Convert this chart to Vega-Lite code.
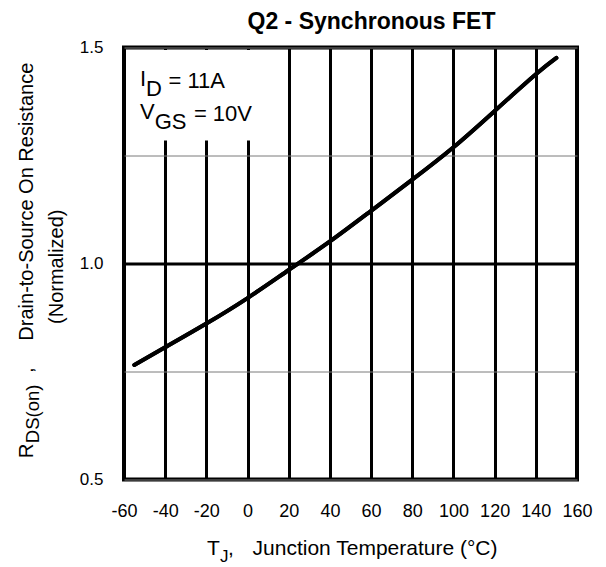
{
  "$schema": "https://vega.github.io/schema/vega-lite/v6.json",
  "width": 453,
  "height": 432,
  "autosize": "none",
  "padding": {"left": 124, "top": 47.5, "right": 29, "bottom": 87.5},
  "background": "white",
  "config": {
    "font": "Liberation Sans",
    "view": {"stroke": "black", "strokeWidth": 4},
    "text": {"color": "black", "font": "Liberation Sans"}
  },
  "title": {
    "text": "Q2 - Synchronous FET",
    "fontSize": 23,
    "fontWeight": "bold",
    "color": "black",
    "anchor": "middle",
    "baseline": "alphabetic",
    "dx": 21,
    "offset": -13
  },
  "datasets": {
    "curve": [
      {"T": -55, "R": 0.765},
      {"T": -40, "R": 0.806},
      {"T": -20, "R": 0.861},
      {"T": 0, "R": 0.92},
      {"T": 20, "R": 0.985},
      {"T": 40, "R": 1.051},
      {"T": 60, "R": 1.122},
      {"T": 80, "R": 1.194},
      {"T": 100, "R": 1.269},
      {"T": 120, "R": 1.353},
      {"T": 140, "R": 1.438},
      {"T": 150, "R": 1.476}
    ]
  },
  "layer": [
    {
      "data": {"name": "curve"},
      "mark": {"type": "line", "color": "black", "strokeWidth": 4, "strokeCap": "round", "interpolate": "natural"},
      "encoding": {
        "x": {
          "field": "T", "type": "quantitative",
          "scale": {"domain": [-60, 160], "nice": false, "zero": false},
          "axis": {
            "title": null,
            "values": [-60, -40, -20, 0, 20, 40, 60, 80, 100, 120, 140, 160],
            "labelExpr": "datum.value + ''",
            "domain": false, "ticks": false, "tickSize": 0,
            "labelFontSize": 18, "labelColor": "black", "labelPadding": 23,
            "labelFont": "Liberation Sans", "labelFlush": false,
            "grid": true, "gridColor": "black", "gridWidth": 3, "gridOpacity": 1
          }
        },
        "y": {
          "field": "R", "type": "quantitative",
          "scale": {"domain": [0.5, 1.5], "nice": false, "zero": false},
          "axis": {
            "title": null,
            "values": [0.5, 0.75, 1, 1.25, 1.5],
            "labelExpr": "datum.value == 0.75 || datum.value == 1.25 ? '' : format(datum.value, '.1f')",
            "domain": false, "ticks": false, "tickSize": 0,
            "labelFontSize": 17, "labelColor": "black", "labelPadding": 21,
            "labelFont": "Liberation Sans", "labelFlush": false,
            "grid": true, "gridOpacity": 1,
            "gridColor": {"condition": {"test": "datum.value == 1", "value": "black"}, "value": "#7a7a7a"},
            "gridWidth": {"condition": {"test": "datum.value == 1", "value": 3}, "value": 1}
          }
        }
      }
    },
    {
      "data": {"values": [{"box": "legend"}]},
      "mark": {"type": "rect", "fill": "white", "strokeWidth": 0},
      "encoding": {
        "x": {"datum": -58.9, "type": "quantitative"},
        "x2": {"datum": 1.6},
        "y": {"datum": 1.285, "type": "quantitative"},
        "y2": {"datum": 1.494}
      }
    },
    {
      "data": {"name": "curve"},
      "mark": {"type": "line", "color": "black", "strokeWidth": 4, "strokeCap": "round", "interpolate": "natural"},
      "encoding": {
        "x": {"field": "T", "type": "quantitative"},
        "y": {"field": "R", "type": "quantitative"}
      }
    },
    {
      "data": {"values": [{"label": "I"}]},
      "mark": {"type": "text", "align": "left", "baseline": "alphabetic", "fontSize": 22, "dx": 16, "dy": 38},
      "encoding": {"x": {"datum": -60, "type": "quantitative"}, "y": {"datum": 1.5, "type": "quantitative"}, "text": {"field": "label"}}
    },
    {
      "data": {"values": [{"label": "D"}]},
      "mark": {"type": "text", "align": "left", "baseline": "alphabetic", "fontSize": 22, "dx": 22.1, "dy": 48},
      "encoding": {"x": {"datum": -60, "type": "quantitative"}, "y": {"datum": 1.5, "type": "quantitative"}, "text": {"field": "label"}}
    },
    {
      "data": {"values": [{"label": "= 11A"}]},
      "mark": {"type": "text", "align": "right", "baseline": "alphabetic", "fontSize": 22, "dx": 101, "dy": 40},
      "encoding": {"x": {"datum": -60, "type": "quantitative"}, "y": {"datum": 1.5, "type": "quantitative"}, "text": {"field": "label"}}
    },
    {
      "data": {"values": [{"label": "V"}]},
      "mark": {"type": "text", "align": "left", "baseline": "alphabetic", "fontSize": 22, "dx": 16, "dy": 71},
      "encoding": {"x": {"datum": -60, "type": "quantitative"}, "y": {"datum": 1.5, "type": "quantitative"}, "text": {"field": "label"}}
    },
    {
      "data": {"values": [{"label": "GS"}]},
      "mark": {"type": "text", "align": "left", "baseline": "alphabetic", "fontSize": 22, "dx": 30.7, "dy": 81},
      "encoding": {"x": {"datum": -60, "type": "quantitative"}, "y": {"datum": 1.5, "type": "quantitative"}, "text": {"field": "label"}}
    },
    {
      "data": {"values": [{"label": "= 10V"}]},
      "mark": {"type": "text", "align": "right", "baseline": "alphabetic", "fontSize": 22, "dx": 128, "dy": 73},
      "encoding": {"x": {"datum": -60, "type": "quantitative"}, "y": {"datum": 1.5, "type": "quantitative"}, "text": {"field": "label"}}
    },
    {
      "data": {"values": [{"label": "T"}]},
      "mark": {"type": "text", "align": "left", "baseline": "alphabetic", "fontSize": 21, "dx": -143.5, "dy": 75.5},
      "encoding": {"x": {"datum": 50, "type": "quantitative"}, "y": {"datum": 0.5, "type": "quantitative"}, "text": {"field": "label"}}
    },
    {
      "data": {"values": [{"label": "J"}]},
      "mark": {"type": "text", "align": "left", "baseline": "alphabetic", "fontSize": 17, "dx": -130.5, "dy": 82.5},
      "encoding": {"x": {"datum": 50, "type": "quantitative"}, "y": {"datum": 0.5, "type": "quantitative"}, "text": {"field": "label"}}
    },
    {
      "data": {"values": [{"label": ","}]},
      "mark": {"type": "text", "align": "left", "baseline": "alphabetic", "fontSize": 21, "dx": -122.5, "dy": 75.5},
      "encoding": {"x": {"datum": 50, "type": "quantitative"}, "y": {"datum": 0.5, "type": "quantitative"}, "text": {"field": "label"}}
    },
    {
      "data": {"values": [{"label": "Junction Temperature (°C)"}]},
      "mark": {"type": "text", "align": "center", "baseline": "alphabetic", "fontSize": 21, "dx": 24.5, "dy": 75.5},
      "encoding": {"x": {"datum": 50, "type": "quantitative"}, "y": {"datum": 0.5, "type": "quantitative"}, "text": {"field": "label"}}
    },
    {
      "data": {"values": [{"label": "R"}]},
      "mark": {"type": "text", "align": "left", "baseline": "alphabetic", "angle": 270, "fontSize": 20.5, "dx": -194.7, "dy": -91},
      "encoding": {"x": {"datum": -60, "type": "quantitative"}, "y": {"datum": 1.0, "type": "quantitative"}, "text": {"field": "label"}}
    },
    {
      "data": {"values": [{"label": "DS(on)"}]},
      "mark": {"type": "text", "align": "left", "baseline": "alphabetic", "angle": 270, "fontSize": 18.5, "dx": -179.7, "dy": -85},
      "encoding": {"x": {"datum": -60, "type": "quantitative"}, "y": {"datum": 1.0, "type": "quantitative"}, "text": {"field": "label"}}
    },
    {
      "data": {"values": [{"label": ","}]},
      "mark": {"type": "text", "align": "center", "baseline": "alphabetic", "angle": 270, "fontSize": 20.5, "dx": -106.7, "dy": -91},
      "encoding": {"x": {"datum": -60, "type": "quantitative"}, "y": {"datum": 1.0, "type": "quantitative"}, "text": {"field": "label"}}
    },
    {
      "data": {"values": [{"label": "Drain-to-Source On Resistance"}]},
      "mark": {"type": "text", "align": "center", "baseline": "alphabetic", "angle": 270, "fontSize": 20, "dx": 61.8, "dy": -91},
      "encoding": {"x": {"datum": -60, "type": "quantitative"}, "y": {"datum": 1.0, "type": "quantitative"}, "text": {"field": "label"}}
    },
    {
      "data": {"values": [{"label": "(Normalized)"}]},
      "mark": {"type": "text", "align": "center", "baseline": "alphabetic", "angle": 270, "fontSize": 20, "dx": -3.2, "dy": -61},
      "encoding": {"x": {"datum": -60, "type": "quantitative"}, "y": {"datum": 1.0, "type": "quantitative"}, "text": {"field": "label"}}
    }
  ]
}
